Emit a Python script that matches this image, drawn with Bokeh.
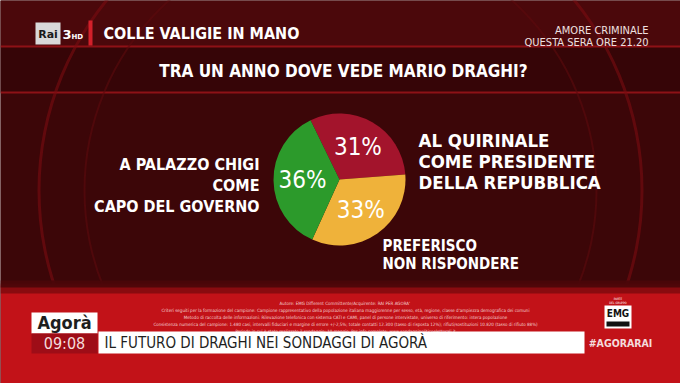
import math
from bokeh.plotting import figure
from bokeh.models import Range1d
from bokeh.core.properties import value
from bokeh.embed import file_html
from bokeh.resources import INLINE

# ---------------- data ----------------
title = "TRA UN ANNO DOVE VEDE MARIO DRAGHI?"
categories = ["AL QUIRINALE\nCOME PRESIDENTE\nDELLA REPUBBLICA",
              "PREFERISCO\nNON RISPONDERE",
              "A PALAZZO CHIGI\nCOME\nCAPO DEL GOVERNO"]
values = [31, 33, 36]
slice_colors = ["#a3142c", "#efb23a", "#2c9a2b"]
program = "COLLE VALIGIE IN MANO"
promo = ["AMORE CRIMINALE", "QUESTA SERA ORE 21.20"]
show = "Agorà"
clock = "09:08"
headline = "IL FUTURO DI DRAGHI NEI SONDAGGI DI AGORÀ"
hashtag = "#AGORARAI"
fineprint = [
    "Autore: EMG Different  Committente/Acquirente: RAI PER AGORA'",
    "Criteri seguiti per la formazione del campione: Campione rappresentativo della popolazione italiana maggiorenne per sesso, età, regione, classe d'ampiezza demografica dei comuni",
    "Metodo di raccolta delle informazioni: Rilevazione telefonica con sistema CATI e CAMI, panel di persone intervistate, universo di riferimento: intera popolazione",
    "Consistenza numerica del campione: 1.480 casi, intervalli fiduciari e margine di errore +/-2,5%; totale contatti 12.300 (tasso di risposta 12%); rifiuti/sostituzioni 10.820 (tasso di rifiuto 88%)",
    "Periodo in cui è stato realizzato il sondaggio: 10 maggio. Per info complete: www.sondaggipoliticoelettorali.it",
]

W, H = 680, 383
def Y(y):
    return H - y

FONT = value("DejaVu Sans Condensed")

p = figure(width=W, height=H, x_range=Range1d(0, W), y_range=Range1d(0, H),
           output_backend="svg", toolbar_location=None, min_border=0)
p.axis.visible = False
p.grid.visible = False
p.outline_line_color = None
p.background_fill_color = "#3c0608"
p.border_fill_color = "#3c0608"

# ---------------- background ----------------
p.quad(left=[0], right=[680], bottom=[Y(383)], top=[Y(0)], fill_color="#3c0608", line_color=None)
p.quad(left=[0], right=[680], bottom=[Y(46)], top=[Y(0)], fill_color="#4b080b", line_color=None)
p.quad(left=[0], right=[680], bottom=[Y(92)], top=[Y(46)], fill_color="#360507", line_color=None)
p.segment(x0=[0, 0], y0=[Y(46), Y(92)], x1=[680, 680], y1=[Y(46), Y(92)],
          line_color="#a3141a", line_width=2, line_alpha=0.8)
# decorative arcs
p.annulus(x=[340], y=[Y(190)], inner_radius=300, outer_radius=303, fill_color="#7a0c10",
          line_color=None, fill_alpha=0.6)
p.annulus(x=[340], y=[Y(190)], inner_radius=255, outer_radius=257, fill_color="#5c0a0d",
          line_color=None, fill_alpha=0.6)
# bottom red band
p.quad(left=[0], right=[680], bottom=[Y(383)], top=[Y(285)], fill_color="#c21218", line_color=None)
p.quad(left=[0], right=[680], bottom=[Y(293)], top=[Y(283)], fill_color="#7a0a0e", line_color=None, fill_alpha=0.8)
p.quad(left=[0], right=[680], bottom=[Y(287)], top=[Y(280)], fill_color="#4a0709", line_color=None, fill_alpha=0.9)

# ---------------- header ----------------
p.quad(left=[35], right=[60], bottom=[Y(44)], top=[Y(22)], fill_color="#d9d9d9", line_color=None)
p.text(x=[47.5], y=[Y(34)], text=["Rai"], text_font=value("DejaVu Sans"), text_font_style="bold",
       text_font_size="11px", text_color="#1a1a1a", text_align="center", text_baseline="middle")
p.text(x=[62], y=[Y(34)], text=["3"], text_font=value("DejaVu Sans"), text_font_style="bold",
       text_font_size="13px", text_color="white", text_align="left", text_baseline="middle")
p.text(x=[71], y=[Y(36)], text=["HD"], text_font=value("DejaVu Sans"), text_font_style="bold",
       text_font_size="7px", text_color="white", text_align="left", text_baseline="middle")
p.quad(left=[88], right=[92], bottom=[Y(45)], top=[Y(20)], fill_color="#d3202a", line_color=None)
p.text(x=[103], y=[Y(33)], text=[program], text_font=FONT, text_font_style="bold",
       text_font_size="16px", text_color="white", text_align="left", text_baseline="middle")
p.text(x=[648, 648], y=[Y(30), Y(42)], text=promo, text_font=FONT,
       text_font_size="11px", text_color="#f0e0e0", text_align="right", text_baseline="middle")

# title
p.text(x=[343], y=[Y(70)], text=[title], text_font=FONT, text_font_style="bold",
       text_font_size="17px", text_color="white", text_align="center", text_baseline="middle")

# ---------------- pie ----------------
cx, cy, r = 339, Y(179), 66
start_deg = -26.0  # clockwise from top
total = float(sum(values))
acc = start_deg
starts, ends, mids = [], [], []
for v in values:
    a0 = acc
    a1 = acc + 360.0 * v / total
    starts.append(math.radians(90 - a0))
    ends.append(math.radians(90 - a1))
    mids.append((a0 + a1) / 2)
    acc = a1
p.wedge(x=[cx] * 3, y=[cy] * 3, radius=r, start_angle=starts, end_angle=ends,
        direction="clock", fill_color=slice_colors, line_color=None)

lr = 37
lx = [cx + lr * math.sin(math.radians(m)) for m in mids]
ly = [cy + lr * math.cos(math.radians(m)) for m in mids]
p.text(x=lx, y=ly, text=[f"{v}%" for v in values], text_font=FONT,
       text_font_size="24px", text_color="white", text_align="center", text_baseline="middle")

# category labels (y = middle of each text block)
p.text(x=[418], y=[Y(161)], text=[categories[0]], text_font=FONT, text_font_style="bold",
       text_font_size="18.5px", text_color="white", text_align="left", text_baseline="middle",
       text_line_height=1.02)
p.text(x=[382], y=[Y(254)], text=[categories[1]], text_font=FONT, text_font_style="bold",
       text_font_size="15px", text_color="white", text_align="left", text_baseline="middle",
       text_line_height=1.0)
p.text(x=[259], y=[Y(185)], text=[categories[2]], text_font=FONT, text_font_style="bold",
       text_font_size="16px", text_color="white", text_align="right", text_baseline="middle",
       text_line_height=1.12)

# ---------------- lower third ----------------
p.text(x=[345] * 5, y=[Y(303 + 7 * i) for i in range(5)], text=fineprint, text_font=FONT,
       text_font_size="4.5px", text_color="#f4d0d0", text_align="center", text_baseline="middle")

p.quad(left=[31], right=[97], bottom=[Y(333)], top=[Y(312)], fill_color="white", line_color=None)
p.text(x=[64], y=[Y(322)], text=[show], text_font=FONT, text_font_style="bold",
       text_font_size="18px", text_color="#1e1e1e", text_align="center", text_baseline="middle")
p.quad(left=[31], right=[97], bottom=[Y(353)], top=[Y(333)], fill_color="#9e0d17", line_color=None)
p.text(x=[64], y=[Y(343)], text=[clock], text_font=FONT,
       text_font_size="16px", text_color="#f4dcdc", text_align="center", text_baseline="middle")
p.quad(left=[98], right=[584], bottom=[Y(353)], top=[Y(331)], fill_color="white", line_color=None)
p.text(x=[104], y=[Y(342)], text=[headline], text_font=FONT,
       text_font_size="15px", text_color="#1e1e1e", text_align="left", text_baseline="middle")
p.text(x=[620], y=[Y(342)], text=[hashtag], text_font=FONT, text_font_style="bold",
       text_font_size="10.5px", text_color="#f4dcdc", text_align="center", text_baseline="middle")

# EMG logo
p.quad(left=[604], right=[631], bottom=[Y(328)], top=[Y(305)], fill_color="white", line_color=None)
p.text(x=[617.5], y=[Y(313)], text=["EMG"], text_font=FONT, text_font_style="bold",
       text_font_size="10px", text_color="#111111", text_align="center", text_baseline="middle")
p.quad(left=[606], right=[629], bottom=[Y(326)], top=[Y(321)], fill_color="#111111", line_color=None)
p.text(x=[617.5, 617.5], y=[Y(298), Y(302)], text=["PARTE", "DEL GRUPPO"], text_font=FONT,
       text_font_size="3px", text_color="white", text_align="center", text_baseline="middle")

open("out.html", "w").write(file_html(p, INLINE))
